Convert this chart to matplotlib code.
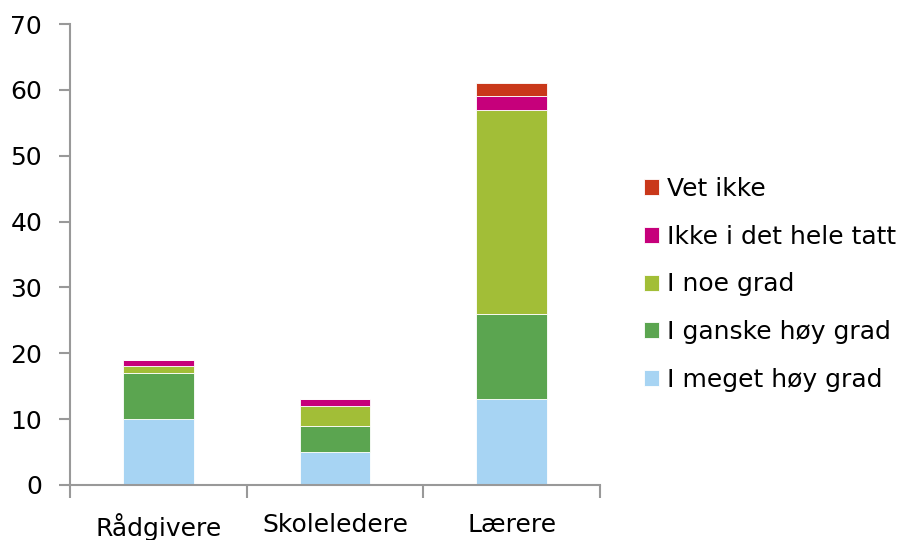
import matplotlib.pyplot as plt
import numpy as np

categories = ['Rådgivere', 'Skoleledere', 'Lærere']
series = ['I meget høy grad', 'I ganske høy grad', 'I noe grad',
          'Ikke i det hele tatt', 'Vet ikke']
meget_hoy = [10, 5, 13]
ganske_hoy = [7, 4, 13]
noe_grad = [1, 3, 31]
ikke = [1, 1, 2]
vet_ikke = [0, 0, 2]
colors = ['#A7D4F3', '#5BA550', '#A2BE37', '#C6007B', '#C9381A']

values = [meget_hoy, ganske_hoy, noe_grad, ikke, vet_ikke]

fig = plt.figure(figsize=(9.18, 5.4), dpi=100)
ax = fig.add_axes([70 / 918, 1 - 485 / 540, 530 / 918, 461 / 540])

x = np.arange(len(categories))
bottom = np.zeros(len(categories))
for name, vals, col in zip(series, values, colors):
    ax.bar(x, vals, 0.4, bottom=bottom, color=col, label=name,
           edgecolor='white', linewidth=0.6)
    bottom += np.array(vals)

ax.set_xlim(-0.5, 2.5)
ax.set_ylim(0, 70)
ax.set_yticks(range(0, 71, 10))
ax.set_xticks(x)
ax.set_xticklabels(categories)
ax.set_xticks([-0.5, 0.5, 1.5, 2.5], minor=True)

for s in ['top', 'right']:
    ax.spines[s].set_visible(False)
for s in ['left', 'bottom']:
    ax.spines[s].set_color('#999999')
    ax.spines[s].set_linewidth(1.5)

ax.tick_params(axis='y', labelsize=18, length=8, width=1.5, color='#999999',
               pad=12, direction='out')
ax.tick_params(axis='x', which='major', labelsize=18, length=0, pad=20)
ax.tick_params(axis='x', which='minor', length=9, width=1.5, color='#999999')

handles, labels = ax.get_legend_handles_labels()
ax.legend(handles[::-1], labels[::-1], loc='center left',
          bbox_to_anchor=(1.04, 0.435), frameon=False, fontsize=18,
          handlelength=0.6, handleheight=0.6, handletextpad=0.35,
          labelspacing=0.95)

fig.savefig('out.png', dpi=100)
